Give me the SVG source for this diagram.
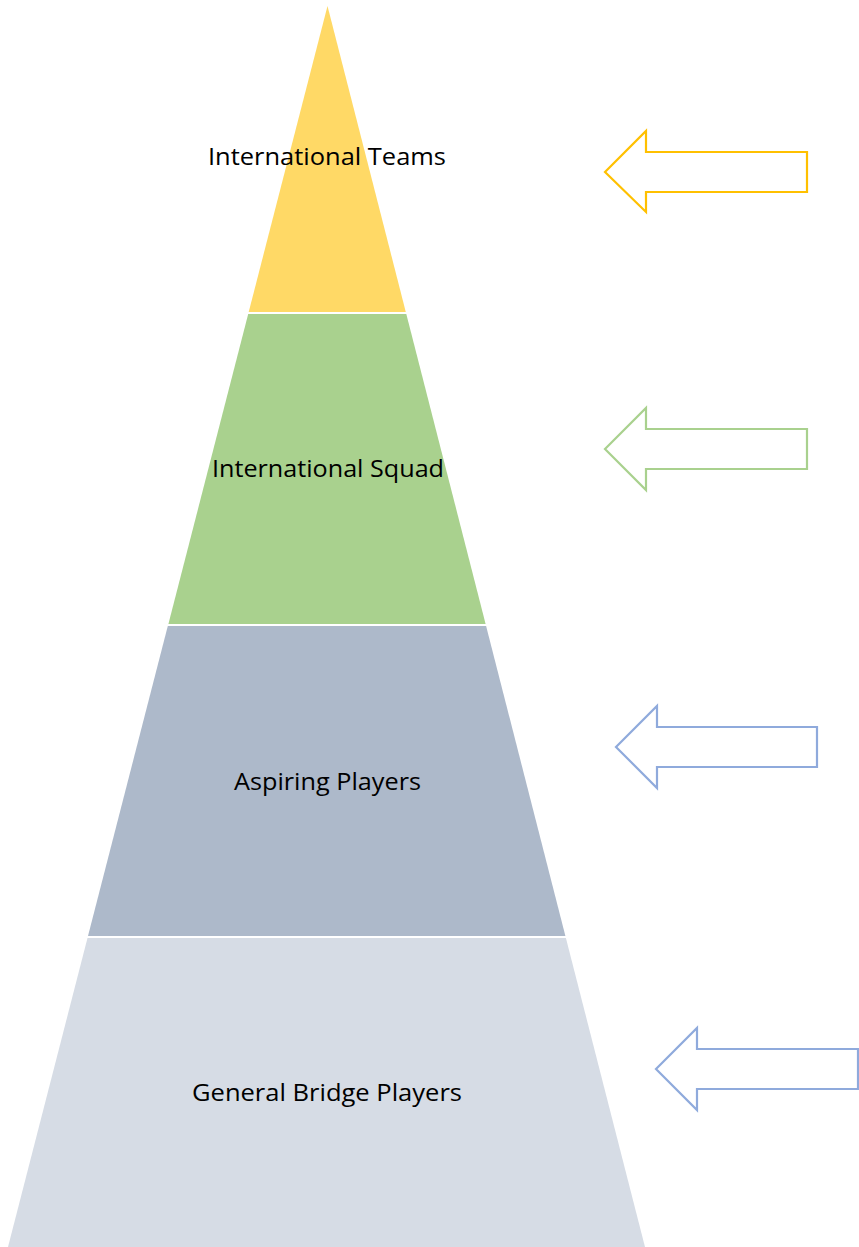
<svg xmlns="http://www.w3.org/2000/svg" width="859" height="1247" viewBox="0 0 859 1247">
  <style>
    .lbl { font-family: "Open Sans", "Liberation Sans", Arial, sans-serif; font-size: 24px; fill: #000; text-anchor: middle; }
    .arrow { fill: #fff; stroke-width: 2.2; stroke-linejoin: miter; }
  </style>
  <rect width="859" height="1247" fill="#fff"/>

  <!-- pyramid tiers -->
  <g id="tier-international-teams">
    <polygon points="327.5,6 405.8,312 248.7,312" fill="#FFD966"/>
    <text class="lbl" x="327" y="165" textLength="238" lengthAdjust="spacingAndGlyphs">International Teams</text>
  </g>
  <g id="tier-international-squad">
    <polygon points="248.2,314 406.3,314 485.6,624 168.4,624" fill="#A9D18E"/>
    <text class="lbl" x="328" y="477" textLength="232" lengthAdjust="spacingAndGlyphs">International Squad</text>
  </g>
  <g id="tier-aspiring-players">
    <polygon points="167.8,626 486.1,626 565.4,936 88,936" fill="#ADB9CA"/>
    <text class="lbl" x="327.5" y="790" textLength="187" lengthAdjust="spacingAndGlyphs">Aspiring Players</text>
  </g>
  <g id="tier-general-bridge-players">
    <polygon points="87.5,938 565.9,938 645,1247 8,1247" fill="#D6DCE5"/>
    <text class="lbl" x="327" y="1101" textLength="270" lengthAdjust="spacingAndGlyphs">General Bridge Players</text>
  </g>

  <!-- pointer arrows -->
  <g id="connectors">
    <polygon class="arrow" stroke="#FFC000" points="605,172 646,131 646,152 807,152 807,192 646,192 646,212"/>
    <polygon class="arrow" stroke="#A9D18E" points="605,449 646,408 646,429 807,429 807,469 646,469 646,490"/>
    <polygon class="arrow" stroke="#8FAADC" points="616,747 657,706 657,727 817,727 817,767 657,767 657,788"/>
    <polygon class="arrow" stroke="#8FAADC" points="656,1069 697,1028 697,1049 858,1049 858,1089 697,1089 697,1110"/>
  </g>
</svg>
